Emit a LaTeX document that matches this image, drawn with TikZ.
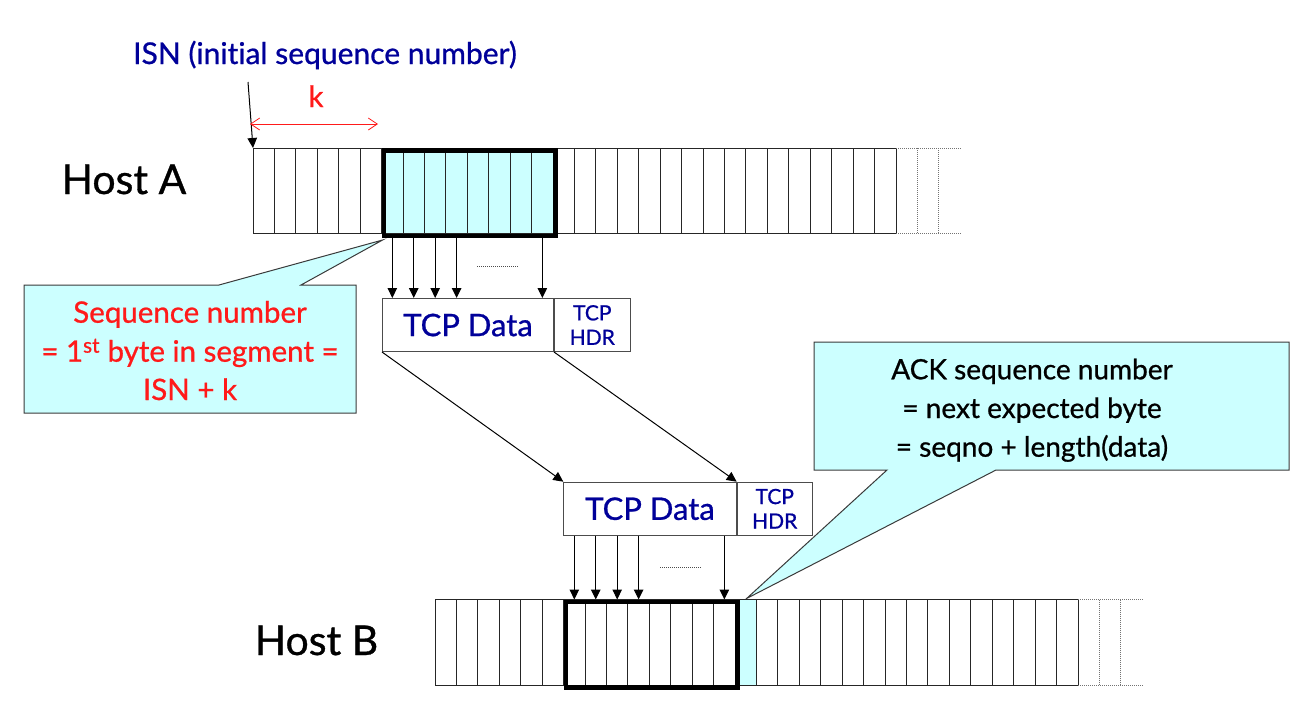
\documentclass[tikz,border=0pt]{standalone}
\usepackage{fontspec}
\setmainfont{Lato}[FakeBold=0.8, Ligatures=NoCommon]
\usetikzlibrary{arrows.meta,calc,backgrounds}

\definecolor{seqblue}{HTML}{000099}
\definecolor{seqred}{HTML}{FF1A1A}
\definecolor{pale}{HTML}{CCFFFF}
\definecolor{edge}{HTML}{3A3A3A}

% width of one byte cell
\newcommand{\cw}{21.433}

\tikzset{
  cell/.style={draw=black!85, line width=1pt},
  ghost/.style={draw=black!55, line width=0.9pt, dash pattern=on 1pt off 1pt},
  seg/.style={draw=black, line width=4.5pt, inner sep=0pt, minimum width=171.5pt, minimum height=85.5pt, anchor=north west},
  feed/.style={-{Triangle[length=10pt,width=9.5pt]}, line width=1pt, black},
  gap/.style={draw=black!70, line width=0.8pt, dash pattern=on 1pt off 1pt},
  pkt/.style={draw=black!70, line width=1pt, fill=white, inner sep=0pt, minimum height=53pt, anchor=north west, text=seqblue},
  datafont/.style={font=\fontsize{31}{36}\selectfont},
  hdrfont/.style={font=\fontsize{21}{24.5}\selectfont, align=center},
  callout/.style={draw=edge, line width=1pt, fill=pale},
  host/.style={font=\fontsize{41}{48}\selectfont, anchor=base},
  note/.style={font=\fontsize{29.5}{35}\selectfont, anchor=base, inner sep=0pt},
  acknote/.style={font=\fontsize{28}{34}\selectfont, anchor=base, inner sep=0pt},
}

\begin{document}
\begin{tikzpicture}[x=1pt, y=-1pt]
\useasboundingbox (0,0) rectangle (1312,718);

% ---------------- Host A byte stream ----------------
\fill[pale] (381.6,148) rectangle (553.06,233.5);
\foreach \i in {0,...,30}
  \draw[cell] ({253+\i*\cw},148) -- ({253+\i*\cw},233.5);
\draw[cell] (253,148) -- (896,148) (253,233.5) -- (896,233.5);
\draw[ghost] (896,148) -- (961,148) (896,233.5) -- (961,233.5)
             (917.4,148) -- (917.4,233.5) (938.9,148) -- (938.9,233.5);
\node[seg] (segA) at (381.6,148) {};
\coordinate (startA) at (253,148);

% ---------------- Host B byte stream ----------------
\fill[pale] (735.06,599.5) rectangle (756.5,685);
\foreach \i in {0,...,30}
  \draw[cell] ({435+\i*\cw},599.5) -- ({435+\i*\cw},685);
\draw[cell] (435,599.5) -- (1078,599.5) (435,685) -- (1078,685);
\draw[ghost] (1078,599.5) -- (1143,599.5) (1078,685) -- (1143,685)
             (1099.4,599.5) -- (1099.4,685) (1120.9,599.5) -- (1120.9,685);
\node[seg] (segB) at (563.6,599.5) {};

% ---------------- host labels ----------------
\node[host] (hostA) at (124,194) {Host A};
\node[host] (hostB) at (316.5,655) {Host B};

% ---------------- ISN and offset k ----------------
\node[note, text=seqblue, font=\fontsize{30}{35}\selectfont] (isn) at (325,64) {ISN (initial sequence number)};
\coordinate (isnTail) at (248,82);
\draw[feed] (isnTail) -- (startA);
\node[note, text=seqred] (klabel) at (316,107) {k};
\coordinate (kL) at (250,124);
\coordinate (kR) at (378,124);
\draw[seqred, line width=0.8pt,
      {Straight Barb[length=9pt,width=12pt]}-{Straight Barb[length=9pt,width=12pt]}] (kL) -- (kR);

% ---------------- segments ----------------
\node[pkt, datafont, minimum width=171pt] (dataA) at (382,298) {TCP Data};
\node[pkt, hdrfont, minimum width=75.6pt] (hdrA) at (dataA.north east) {TCP\\HDR};
\node[pkt, datafont, minimum width=172.4pt] (dataB) at (563.3,481.7) {TCP Data};
\node[pkt, hdrfont, minimum width=75pt] (hdrB) at (dataB.north east) {TCP\\HDR};

% bytes copied into the outgoing segment
\foreach \k in {0,1,2,3,7}{
  \coordinate (a\k) at ($(segA.south west)+({(\k+0.5)*\cw},0)$);
  \draw[feed] (a\k) -- (a\k |- dataA.north);
}
\coordinate (dotsAL) at (477,266);
\coordinate (dotsAR) at (519,266);
\draw[gap] (dotsAL) -- (dotsAR);

% segment in transit
\draw[feed] (dataA.south west) -- (dataB.north west);
\draw[feed] (dataA.south east) -- (dataB.north east);

% bytes delivered into the receive stream
\foreach \k in {0,1,2,3,7}{
  \coordinate (b\k) at ($(segB.north west)+({(\k+0.5)*\cw},0)$);
  \draw[feed] (b\k |- dataB.south) -- (b\k);
}
\coordinate (dotsBL) at (660,567);
\coordinate (dotsBR) at (702,567);
\draw[gap] (dotsBL) -- (dotsBR);

% ---------------- callouts ----------------
\begin{scope}[on background layer]
  \draw[callout] (24,285) -- (219,285) -- ($(segA.south west)+(1,2)$) -- (301,285)
                 -- (356,285) -- (356,413) -- (24,413) -- cycle;
  \draw[callout] (814,342) -- (1289,342) -- (1289,470) -- (996,470)
                 -- ($(segB.north east)+(7,-1)$) -- (887,470) -- (814,470) -- cycle;
\end{scope}

\node[note, text=seqred] (seq1) at (190,322.7) {Sequence number};
\node[note, text=seqred] (seq2) at (190,361.7) {= 1\textsuperscript{st} byte in segment =};
\node[note, text=seqred] (seq3) at (190,400) {ISN + k};

\node[acknote] (ack1) at (1032,379.3) {ACK sequence number};
\node[acknote] (ack2) at (1032,418) {= next expected byte};
\node[acknote] (ack3) at (1032,456.7) {= seqno + length(data)};
\end{tikzpicture}
\end{document}
